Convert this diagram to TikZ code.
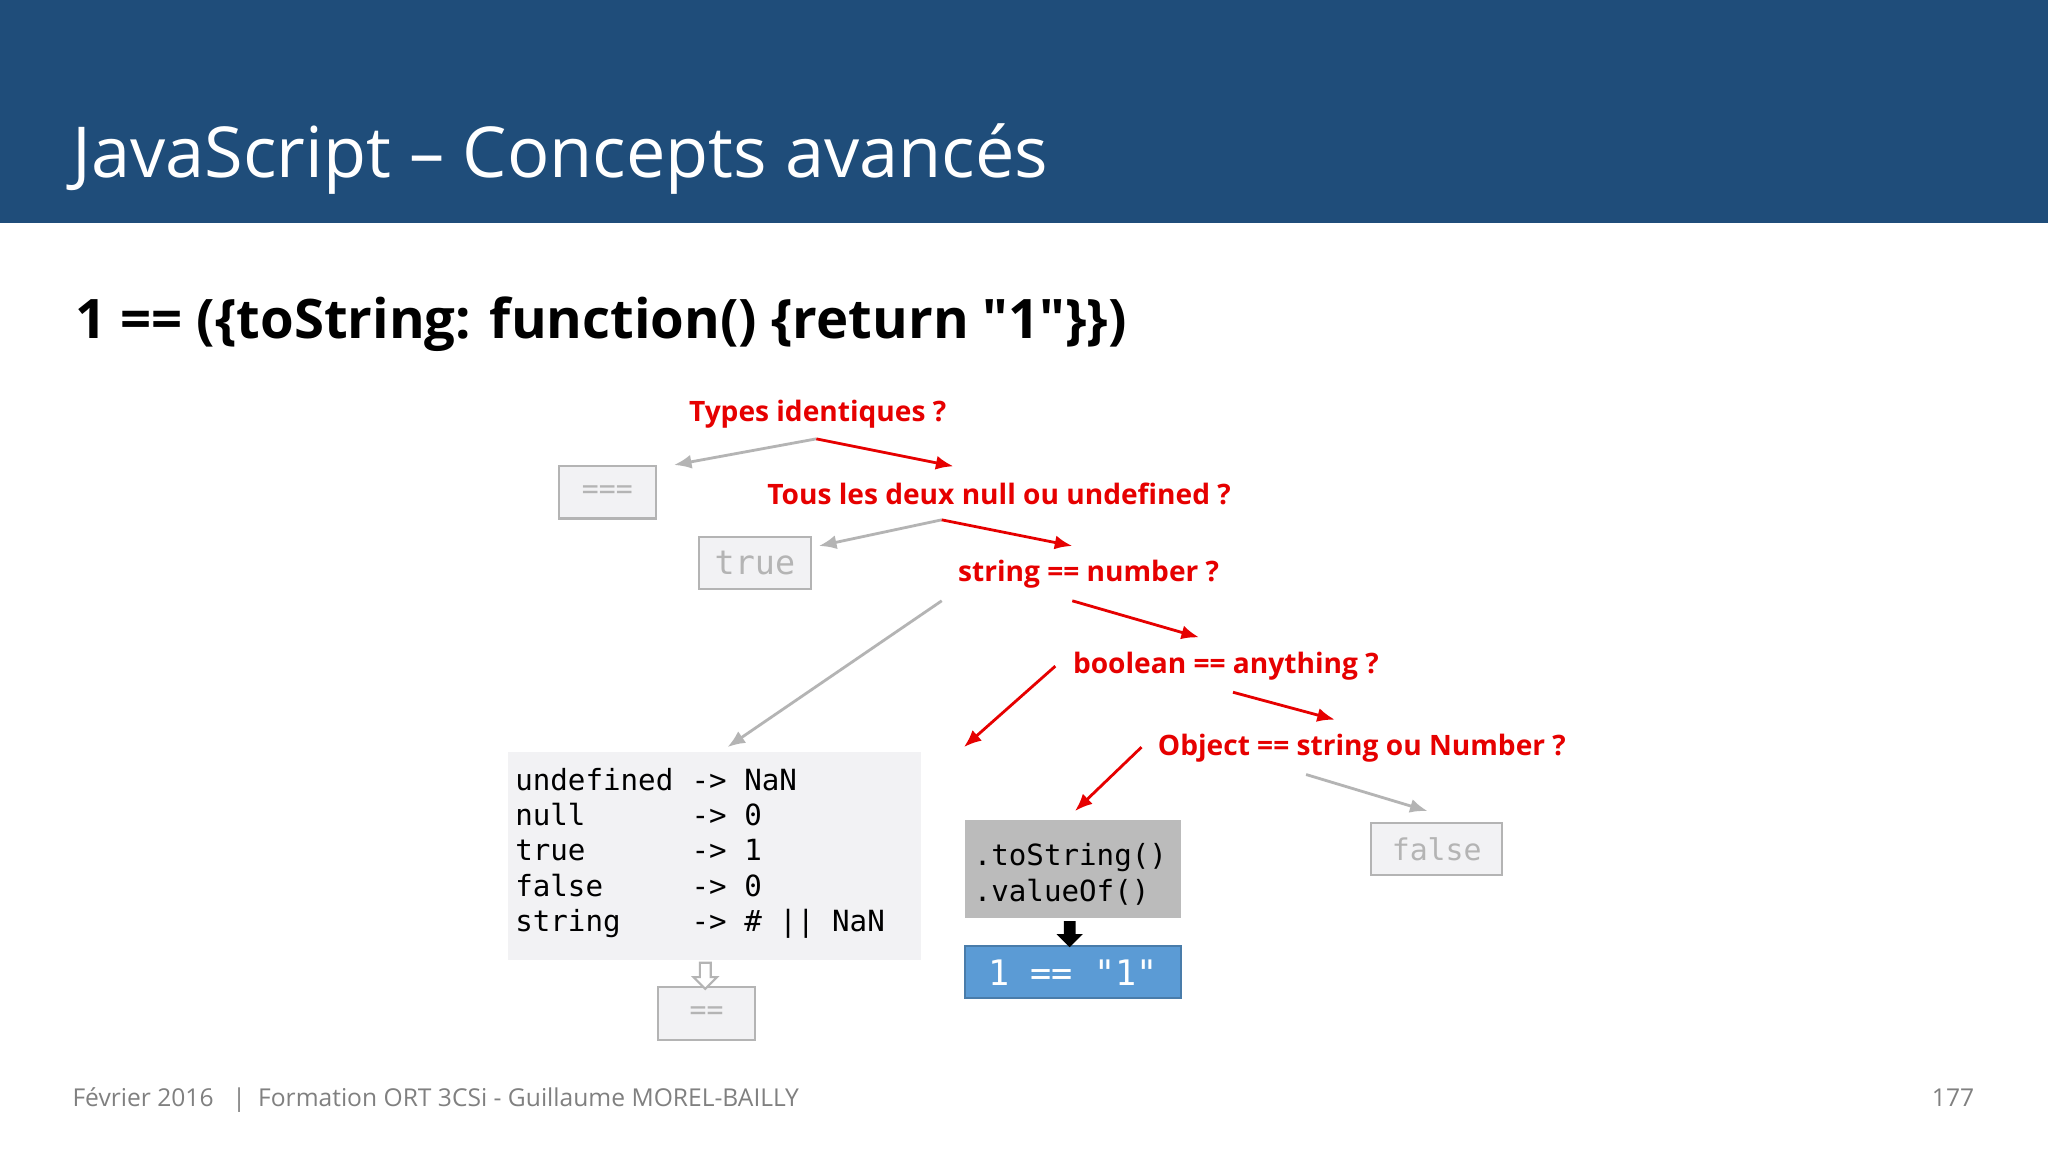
\documentclass[tikz,border=0pt]{standalone}
\usepackage{fontspec}
\setmainfont{Open Sans}
\setmonofont{DejaVu Sans Mono}
\usetikzlibrary{arrows.meta,shapes.arrows}
\definecolor{hdr}{RGB}{31,77,122}
\definecolor{qred}{RGB}{230,0,0}
\definecolor{lgray}{RGB}{180,180,180}
\definecolor{boxfill}{RGB}{242,242,244}
\definecolor{blueb}{RGB}{91,155,213}
\begin{document}
\begin{tikzpicture}[x=0.013061cm,y=-0.013061cm,
  q/.style={text=qred,font=\bfseries\fontsize{8}{10}\selectfont,inner sep=0pt,anchor=west},
  gbox/.style={draw=lgray,fill=boxfill,line width=0.6pt,minimum width=#1*0.3716pt,minimum height=40*0.3716pt,inner sep=0pt,text=lgray,font=\ttfamily\fontsize{8}{10}\selectfont},
  garr/.style={draw=lgray,line width=0.8pt,-{Latex[length=5pt,width=4pt]}},
  rarr/.style={draw=qred,line width=0.8pt,-{Latex[length=5pt,width=4pt]}},
  code/.style={font=\ttfamily\fontsize{8.3}{10}\selectfont,anchor=base west,inner sep=0pt}]
\useasboundingbox (0,0) rectangle (1568,882);
\fill[white] (0,0) rectangle (1568,882);
\fill[hdr] (0,0) rectangle (1568,171);
\node[anchor=base west,text=white,font=\fontsize{20}{24}\selectfont,inner sep=0pt] (title) at (55,136) {JavaScript – Concepts avancés};
\node[anchor=base west,font=\bfseries\fontsize{15.5}{18}\selectfont,inner sep=0pt] (sub) at (57,259) {1 == (\{toString: function() \{return \textquotedbl 1\textquotedbl\}\})};
% questions
\node[q] (q1) at (527,317) {Types identiques ?};
\node[q] (q2) at (587,378) {Tous les deux null ou undefined ?};
\node[q] (q3) at (733,440) {string == number ?};
\node[q] (q4) at (821,510) {boolean == anything ?};
\node[q] (q5) at (886,573) {Object == string ou Number ?};
% boxes
\node[gbox=74] (b1) at (465,377) {===};
\node[gbox=86] (b2) at (578,431) {\fontsize{9.5}{10}\selectfont true};
\node[gbox=100] (b3) at (1100,650) {\fontsize{8.5}{10}\selectfont false};
\node[gbox=74] (b4) at (541,776) {==};
\fill[boxfill] (389,576) rectangle (705,735);
\node[code] (c1) at (394,605) {undefined};
\node[code] (c2) at (394,632) {null};
\node[code] (c3) at (394,659) {true};
\node[code] (c4) at (394,686) {false};
\node[code] (c5) at (394,713) {string};
\foreach \i/\t in {1/NaN,2/0,3/1,4/0,5/\# || NaN}{
  \node[code] (d\i) at (529,578+27*\i) {-> \t};}
\fill[lgray!90!white] (739,628) rectangle (904,703);
\node[code,font=\ttfamily\fontsize{8.3}{10}\selectfont] (ts1) at (745,663) {.toString()};
\node[code,font=\ttfamily\fontsize{8.3}{10}\selectfont] (ts2) at (745,690) {.valueOf()};
\draw[blueb!80!black,fill=blueb,line width=0.6pt] (739,724) rectangle (904,764);
\node[text=white,font=\ttfamily\fontsize{10}{12}\selectfont,inner sep=0pt] (one) at (821.5,745) {1 == \textquotedbl 1\textquotedbl};
\node[single arrow,shape border rotate=270,fill=black,minimum height=20*0.3716pt,minimum width=20*0.3716pt,single arrow head extend=1.5pt,inner sep=1pt] (ba) at (819,713) {};
\node[single arrow,shape border rotate=270,draw=lgray,fill=white,line width=0.6pt,minimum height=20*0.3716pt,minimum width=18*0.3716pt,single arrow head extend=1.5pt,inner sep=1pt] (wa) at (540,745) {};
% arrows
\coordinate (a1) at (625,336); \coordinate (a2) at (721,398);
\coordinate (a3) at (721,460); \coordinate (a3r) at (821,460);
\coordinate (a4) at (808,510); \coordinate (a4r) at (944,530);
\coordinate (a5) at (874,572); \coordinate (a5r) at (1000,593);
\draw[garr] (a1) -- (516,356);
\draw[rarr] (a1) -- (730,357);
\draw[garr] (a2) -- (627,418);
\draw[rarr] (a2) -- (821,418);
\draw[garr] (a3) -- (557,572);
\draw[rarr] (a3r) -- (918,488);
\draw[rarr] (a4) -- (738,572);
\draw[rarr] (a4r) -- (1022,551);
\draw[rarr] (a5) -- (823,621);
\draw[garr] (a5r) -- (1093,621);
% footer
\node[anchor=base west,text=gray,font=\fontsize{7}{8}\selectfont,inner sep=0pt] (f1) at (55,847) {Février 2016 \enspace|\enspace Formation ORT 3CSi - Guillaume MOREL-BAILLY};
\node[anchor=base east,text=gray,font=\fontsize{7}{8}\selectfont,inner sep=0pt] (f2) at (1512,847) {177};
\end{tikzpicture}
\end{document}
